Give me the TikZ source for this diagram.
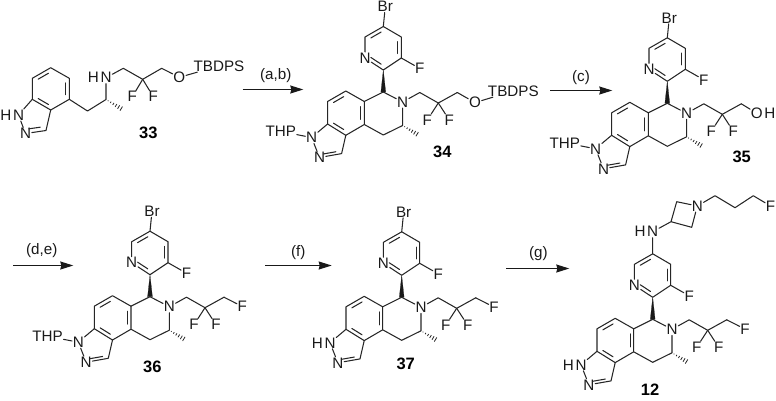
\documentclass[tikz,border=0pt]{standalone}
\usepackage{fontspec}
\setmainfont{Liberation Sans}
\usetikzlibrary{calc,arrows.meta}
\tikzset{
  atom/.style={inner sep=0.8pt,outer sep=0pt,font=\fontsize{15.2}{16}\selectfont,text=black!90},
  cpd/.style={inner sep=0pt,font=\fontsize{16.5}{17}\selectfont\bfseries,text=black},
  cond/.style={inner sep=0pt,font=\fontsize{15.2}{16}\selectfont,text=black!90},
  bond/.style={line width=1.05pt,draw=black!85,line cap=round,line join=round},
  rxn/.style={line width=1.2pt,draw=black!90,-{Stealth[length=13pt,width=8pt,inset=1pt]}},
  wedge/.style={fill=black!90,draw=black!90,line width=0.2pt},
  hashb/.style={line width=0.8pt,draw=black!85}
}
% inner line of a double bond: ends, ring centre
\newcommand{\dbl}[3]{\draw[bond] ($(#1)!.15!(#2)!.2!(#3)$) -- ($(#2)!.15!(#1)!.2!(#3)$);}
% solid wedge: narrow end, wide end
\newcommand{\wdg}[2]{\fill[wedge] (#1) -- ($(#2)!2.4pt!90:(#1)$) -- ($(#2)!2.4pt!-90:(#1)$) -- cycle;}
% hashed wedge: narrow end, wide end
\newcommand{\hsh}[2]{\foreach \t/\w in {.12/0.4,.27/0.8,.42/1.2,.57/1.6,.72/2.0,.87/2.4,1/2.8}{%
  \draw[hashb] ($(#1)!\t!(#2)!\w pt!90:(#2)$) -- ($(#1)!\t!(#2)!\w pt!-90:(#2)$);}}
% common skeleton, origin at the benzylic stereocentre
\newcommand{\core}[3]{%
\begin{scope}[shift={(#2,#3)},name prefix=#1-]
  \coordinate (sc) at (0,0);
  \coordinate (c2) at (0,-22);
  \coordinate (c3) at (18,-34);
  \coordinate (c4) at (18,-55);
  \coordinate (c5) at (0,-65.5);
  \coordinate (c6) at (-18.3,-55);
  \node[atom] (npy) at (-18.3,-34) {N};
  \node[atom] (fpy) at (36.5,-23.5) {F};
  \coordinate (pc) at (0,-44);
  \draw[bond] (c2) -- (c3) -- (c4) -- (c5) -- (c6) -- (npy) -- (c2);
  \draw[bond] (c3) -- (fpy);
  \dbl{c3}{c4}{pc}\dbl{c5}{c6}{pc}\dbl{c2}{npy}{pc}
  \wdg{c2}{sc}
  \node[atom] (n6) at (19.3,10) {N};
  \coordinate (c7) at (19.3,33.5);
  \coordinate (me) at (36,43.5);
  \coordinate (c8) at (0,43);
  \coordinate (a1) at (-19,32.5);
  \coordinate (a2) at (-19,9.5);
  \coordinate (a3) at (-37.5,-1);
  \coordinate (a4) at (-55.7,9.5);
  \coordinate (a5) at (-55.7,32);
  \coordinate (a6) at (-37.5,43.3);
  \coordinate (bc) at (-37.3,21);
  \draw[bond] (sc) -- (n6) -- (c7) -- (c8) -- (a1) -- (a2) -- (a3) -- (a4) -- (a5) -- (a6) -- (a1);
  \draw[bond] (a2) -- (sc);
  \dbl{a3}{a4}{bc}\dbl{a5}{a6}{bc}\dbl{a1}{a2}{bc}
  \hsh{c7}{me}
  \node[atom] (n1) at (-71.7,45.5) {N};
  \node[atom] (n2) at (-63.8,65.5) {N};
  \coordinate (c3h) at (-41.7,61.6);
  \coordinate (zc) at (-57,50);
  \draw[bond] (a5) -- (n1) -- (n2) -- (c3h) -- (a6);
  \dbl{n2}{c3h}{zc}
  \coordinate (ch1) at (36.5,0.5);
  \coordinate (cf2) at (55,11);
  \coordinate (ch2) at (74,0.5);
  \node[atom] (f1) at (44,28) {F};
  \node[atom] (f2) at (66,28) {F};
  \draw[bond] (n6) -- (ch1) -- (cf2) -- (ch2);
  \draw[bond] (cf2) -- (f1);
  \draw[bond] (cf2) -- (f2);
\end{scope}}
\newcommand{\addthp}[3]{%
\begin{scope}[shift={(#2,#3)},name prefix=#1-]
  \node[atom] (thp) at (-102.5,39.5) {THP};
  \draw[bond] (thp) -- (n1);
\end{scope}}
\newcommand{\addh}[3]{%
\begin{scope}[shift={(#2,#3)},name prefix=#1-]
  \node[atom,anchor=east] (hn1) at (n1.west) {H};
\end{scope}}
\newcommand{\addbr}[3]{%
\begin{scope}[shift={(#2,#3)},name prefix=#1-]
  \node[atom] (br) at (2,-85.5) {Br};
  \draw[bond] (c5) -- (br);
\end{scope}}
\newcommand{\addf}[3]{%
\begin{scope}[shift={(#2,#3)},name prefix=#1-]
  \node[atom] (fe) at (92.3,9.8) {F};
  \draw[bond] (ch2) -- (fe);
\end{scope}}
\newcommand{\addotb}[3]{%
\begin{scope}[shift={(#2,#3)},name prefix=#1-]
  \node[atom] (o) at (91.7,10.6) {O};
  \node[atom] (tb) at (130,-1) {TBDPS};
  \draw[bond] (ch2) -- (o) -- (tb);
\end{scope}}
\begin{document}
\begin{tikzpicture}[x=1pt,y=-1pt]
\useasboundingbox (0,0) rectangle (776,400);
% ---- 33
\coordinate (b1) at (50.7,67.7);
\coordinate (b2) at (69.3,78.3);
\coordinate (b3) at (69.3,99.3);
\coordinate (b4) at (50.7,110);
\coordinate (b5) at (32.3,99.3);
\coordinate (b6) at (32.3,78.3);
\coordinate (bz) at (50.7,89);
\node[atom] (xn1) at (18.5,115) {N};
\node[atom,anchor=east] (xh1) at (xn1.west) {H};
\node[atom] (xn2) at (25.5,133.5) {N};
\coordinate (xc3) at (46,130.5);
\coordinate (xz) at (30,112);
\coordinate (ch) at (87.5,111);
\coordinate (cs) at (106,99.5);
\coordinate (cm) at (123.5,110);
\node[atom] (hn) at (106,77.7) {N};
\node[atom,anchor=east] (hh) at (hn.west) {H};
\coordinate (d1) at (123.3,68.3);
\coordinate (d2) at (142.7,79.3);
\coordinate (d3) at (161.7,68.3);
\node[atom] (xf1) at (132.3,96.7) {F};
\node[atom] (xf2) at (153.3,96.7) {F};
\node[atom] (xo) at (179.3,77.3) {O};
\node[atom] (xtb) at (219,66) {TBDPS};
\draw[bond] (b1) -- (b2) -- (b3) -- (b4) -- (b5) -- (b6) -- (b1);
\dbl{b6}{b1}{bz}\dbl{b2}{b3}{bz}\dbl{b4}{b5}{bz}
\draw[bond] (b5) -- (xn1) -- (xn2) -- (xc3) -- (b4);
\dbl{xn2}{xc3}{xz}
\draw[bond] (b3) -- (ch) -- (cs) -- (hn) -- (d1) -- (d2) -- (d3) -- (xo) -- (xtb);
\draw[bond] (d2) -- (xf1);
\draw[bond] (d2) -- (xf2);
\hsh{cs}{cm}
\node[cpd] (l33) at (148.3,133) {33};
% ---- 34
\core{m}{383.3}{92}\addthp{m}{383.3}{92}\addbr{m}{383.3}{92}\addotb{m}{383.3}{92}
\node[cpd] (l34) at (442.3,151.7) {34};
% ---- 35
\core{p}{667.3}{103.3}\addthp{p}{667.3}{103.3}\addbr{p}{667.3}{103.3}
\node[atom] (oh) at (756.8,113.3) {O};
\node[atom,anchor=west] (ohh) at (oh.east) {H};
\draw[bond] (p-ch2) -- (oh);
\node[cpd] (l35) at (741.7,157.3) {35};
% ---- 36
\core{q}{150}{296.7}\addthp{q}{150}{296.7}\addbr{q}{150}{296.7}\addf{q}{150}{296.7}
\node[cpd] (l36) at (152.3,366.7) {36};
% ---- 37
\core{r}{401.7}{297.3}\addh{r}{401.7}{297.3}\addbr{r}{401.7}{297.3}\addf{r}{401.7}{297.3}
\node[cpd] (l37) at (405.7,364.3) {37};
% ---- 12
\core{s}{652.7}{319.3}\addh{s}{652.7}{319.3}\addf{s}{652.7}{319.3}
\node[atom] (an) at (652.7,231.7) {N};
\node[atom,anchor=east] (ah) at (an.west) {H};
\coordinate (z1) at (671,221.7);
\coordinate (z2) at (676.7,201.7);
\node[atom] (zn) at (697.3,206) {N};
\coordinate (z3) at (691.7,227.3);
\coordinate (y1) at (715,195.7);
\coordinate (y2) at (735,207.7);
\coordinate (y3) at (753.3,195.7);
\node[atom] (yf) at (770.5,206) {F};
\draw[bond] (s-c5) -- (an) -- (z1) -- (z2) -- (zn) -- (z3) -- (z1);
\draw[bond] (zn) -- (y1) -- (y2) -- (y3) -- (yf);
\node[cpd] (l12) at (650,390) {12};
% ---- arrows
\coordinate (ar1s) at (242.7,89.5);\coordinate (ar1e) at (303.3,89.5);
\draw[rxn] (ar1s) -- (ar1e);
\node[cond] (t1) at (275.7,76) {(a,b)};
\coordinate (ar2s) at (550,90.5);\coordinate (ar2e) at (612.3,90.5);
\draw[rxn] (ar2s) -- (ar2e);
\node[cond] (t2) at (581,77.7) {(c)};
\coordinate (ar3s) at (13.3,265.5);\coordinate (ar3e) at (73.3,265.5);
\draw[rxn] (ar3s) -- (ar3e);
\node[cond] (t3) at (41.7,250.7) {(d,e)};
\coordinate (ar4s) at (265,265.5);\coordinate (ar4e) at (331.7,265.5);
\draw[rxn] (ar4s) -- (ar4e);
\node[cond] (t4) at (298.3,252.7) {(f)};
\coordinate (ar5s) at (506,268.5);\coordinate (ar5e) at (569.3,268.5);
\draw[rxn] (ar5s) -- (ar5e);
\node[cond] (t5) at (538.3,254) {(g)};
\end{tikzpicture}
\end{document}
